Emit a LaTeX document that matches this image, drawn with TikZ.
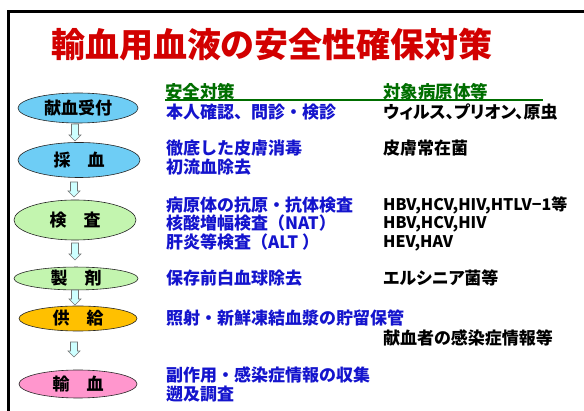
\documentclass[tikz,border=0pt]{standalone}
\usepackage{fontspec}
\newfontfamily\jp{Noto Sans CJK JP}
\newfontfamily\jpp{Noto Sans CJK JP}[RawFeature=+palt]
\usetikzlibrary{shapes.geometric}
\definecolor{titlered}{RGB}{210,0,0}
\definecolor{textblue}{RGB}{20,20,205}
\definecolor{headgreen}{RGB}{0,110,0}
\definecolor{skyfill}{RGB}{110,205,245}
\definecolor{greenfill}{RGB}{195,245,175}
\definecolor{orangefill}{RGB}{255,192,0}
\definecolor{pinkfill}{RGB}{255,150,205}
\definecolor{arrowfill}{RGB}{205,255,255}
\newcommand\dnarrow[3]{%
  \draw[blockarrow] ({#1-3.5},#2) -- ({#1+3.5},#2) -- ({#1+3.5},{#3-6}) -- ({#1+6},{#3-6})
    -- (#1,#3) -- ({#1-6},{#3-6}) -- ({#1-3.5},{#3-6}) -- cycle;}
\begin{document}
\begin{tikzpicture}[x=1pt,y=-1pt,
  stage/.style={ellipse, draw=black!85, line width=0.6pt, inner sep=0pt,
    font=\jp\bfseries\fontsize{17}{17}\selectfont},
  blockarrow/.style={draw=black!55, fill=arrowfill, line width=0.6pt, line join=miter},
  lefttxt/.style={anchor=west, inner sep=0pt, text=textblue, align=left,
    font=\jp\bfseries\fontsize{17}{18.5}\selectfont},
  righttxt/.style={anchor=west, inner sep=0pt, text=black, align=left,
    font=\jpp\bfseries\fontsize{17}{18.5}\selectfont},
  headtxt/.style={anchor=west, inner sep=0pt, text=headgreen,
    font=\jp\bfseries\fontsize{17.5}{18}\selectfont},
]
\useasboundingbox (0,0) rectangle (584,411);
\fill[white] (0,0) rectangle (584,411);
\begin{scope}
\clip (0,0) rectangle (584,411);
\draw[line width=3pt] (8.5,700) -- (8.5,11.5) -- (700,11.5);
\end{scope}

% title
\node[text=titlered, font=\jp\bfseries\fontsize{34}{36}\selectfont] (title) at (272,45) {輸血用血液の安全性確保対策};

% stages
\node[stage, fill=skyfill, minimum width=120pt, minimum height=30pt] (s1) at (78,108) {献血受付};
\node[stage, fill=skyfill, minimum width=122pt, minimum height=35pt] (s2) at (79,160) {採　血};
\node[stage, fill=greenfill, minimum width=122pt, minimum height=40pt] (s3) at (75,220) {検　査};
\node[stage, fill=greenfill, minimum width=124pt, minimum height=21pt] (s4) at (76,278.5) {製　剤};
\node[stage, fill=orangefill, minimum width=118pt, minimum height=25pt] (s5) at (78,318.5) {供　給};
\node[stage, fill=pinkfill, minimum width=118pt, minimum height=28pt] (s6) at (78,384) {輸　血};

% arrows
\dnarrow{75}{124}{141}
\dnarrow{74}{182}{197}
\dnarrow{75}{243}{260}
\dnarrow{75}{290}{305}
\dnarrow{74}{342}{357}

% headers
\node[headtxt] (h1) at (165,92) {安全対策};
\node[headtxt] (h2) at (383,92) {対象病原体等};
\draw[headgreen, line width=1.3pt] (165,100) -- (543,100);

% left column
\node[lefttxt] (l1) at (166,112) {本人確認、問診・検診};
\node[lefttxt] (l2) at (166,157.5) {徹底した皮膚消毒\\初流血除去};
\node[lefttxt] (l3) at (166,223.5) {病原体の抗原・抗体検査\\核酸増幅検査（NAT）\\肝炎等検査（ALT ）};
\node[lefttxt] (l4) at (166,278) {保存前白血球除去};
\node[lefttxt] (l5) at (166,318) {照射・新鮮凍結血漿の貯留保管};
\node[lefttxt] (l6) at (166,384.5) {副作用・感染症情報の収集\\遡及調査};

% right column
\node[righttxt] (r1) at (383,112) {ウィルス、プリオン、原虫};
\node[righttxt] (r2) at (383,148) {皮膚常在菌};
\node[righttxt, font=\jpp\bfseries\fontsize{16}{18.5}\selectfont] (r3) at (383,223.5) {HBV,HCV,HIV,HTLV−1等\\HBV,HCV,HIV\\HEV,HAV};
\node[righttxt] (r4) at (383,278) {エルシニア菌等};
\node[righttxt] (r5) at (383,338) {献血者の感染症情報等};
\end{tikzpicture}
\end{document}
